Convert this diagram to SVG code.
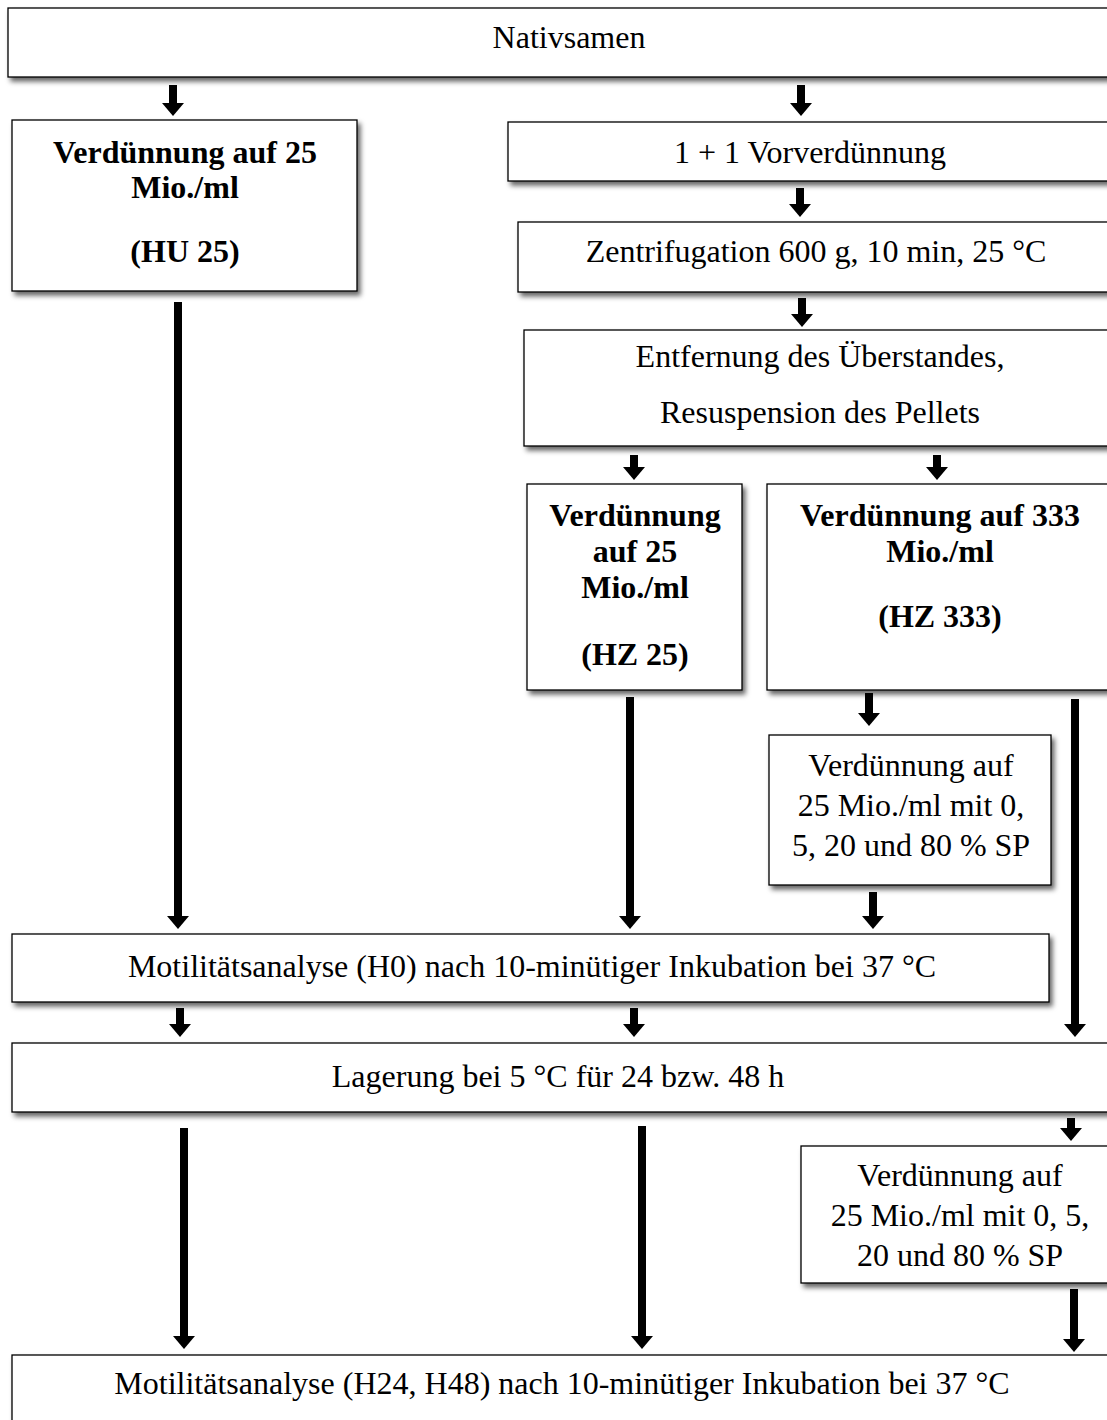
<svg xmlns="http://www.w3.org/2000/svg" width="1107" height="1420" viewBox="0 0 1107 1420">
<defs>
<filter id="sh" x="-5%" y="-10%" width="115%" height="130%">
<feDropShadow dx="3" dy="4" stdDeviation="2.5" flood-color="#000" flood-opacity="0.6"/>
</filter>
<marker id="ah" markerUnits="userSpaceOnUse" markerWidth="14" markerHeight="24" viewBox="0 -12 14 24" refX="0" refY="0" orient="auto">
<path d="M0,-11 L13,0 L0,11 z" fill="#000"/>
</marker>
</defs>
<style>
.box{fill:#fff;stroke:#000;stroke-width:1.3;filter:url(#sh)}
.t{font-family:"Liberation Serif","Times New Roman",serif;font-size:32px;fill:#000;text-anchor:middle}
.b{font-weight:bold}
.ar{stroke:#000;stroke-width:8;fill:none;marker-end:url(#ah)}
</style>
<rect width="1107" height="1420" fill="#fff"/>

<g id="connectors">
<line class="ar" x1="173" y1="85" x2="173" y2="103"/>
<line class="ar" x1="801" y1="85" x2="801" y2="103"/>
<line class="ar" x1="800" y1="188" x2="800" y2="204"/>
<line class="ar" x1="802" y1="298" x2="802" y2="314"/>
<line class="ar" x1="634" y1="455" x2="634" y2="467"/>
<line class="ar" x1="937" y1="455" x2="937" y2="467"/>
<line class="ar" x1="178" y1="302" x2="178" y2="916"/>
<line class="ar" x1="630" y1="697" x2="630" y2="916"/>
<line class="ar" x1="869" y1="693" x2="869" y2="713"/>
<line class="ar" x1="1075" y1="699" x2="1075" y2="1024"/>
<line class="ar" x1="873" y1="892" x2="873" y2="916"/>
<line class="ar" x1="180" y1="1008" x2="180" y2="1024"/>
<line class="ar" x1="634" y1="1008" x2="634" y2="1024"/>
<line class="ar" x1="184" y1="1128" x2="184" y2="1336"/>
<line class="ar" x1="642" y1="1126" x2="642" y2="1336"/>
<line class="ar" x1="1071" y1="1118" x2="1071" y2="1128"/>
<line class="ar" x1="1074" y1="1289" x2="1074" y2="1339"/>
</g>

<g id="n-nativsamen">
<rect class="box" x="8" y="8" width="1120" height="69"/>
<text class="t" x="569" y="48">Nativsamen</text>
</g>
<g id="n-hu25">
<rect class="box" x="12" y="120" width="345" height="171"/>
<text class="t b" x="185" y="163">Verdünnung auf 25</text>
<text class="t b" x="185" y="198">Mio./ml</text>
<text class="t b" x="185" y="262">(HU 25)</text>
</g>
<g id="n-vorverduennung">
<rect class="box" x="508" y="122" width="620" height="59"/>
<text class="t" x="810" y="163">1 + 1 Vorverdünnung</text>
</g>
<g id="n-zentrifugation">
<rect class="box" x="518" y="222" width="610" height="70"/>
<text class="t" x="816" y="262">Zentrifugation 600 g, 10 min, 25 °C</text>
</g>
<g id="n-entfernung">
<rect class="box" x="524" y="330" width="604" height="116"/>
<text class="t" x="820" y="367">Entfernung des Überstandes,</text>
<text class="t" x="820" y="423">Resuspension des Pellets</text>
</g>
<g id="n-hz25">
<rect class="box" x="527" y="484" width="215" height="206"/>
<text class="t b" x="635" y="526">Verdünnung</text>
<text class="t b" x="635" y="562">auf 25</text>
<text class="t b" x="635" y="598">Mio./ml</text>
<text class="t b" x="635" y="665">(HZ 25)</text>
</g>
<g id="n-hz333">
<rect class="box" x="767" y="484" width="361" height="206"/>
<text class="t b" x="940" y="526">Verdünnung auf 333</text>
<text class="t b" x="940" y="562">Mio./ml</text>
<text class="t b" x="940" y="627">(HZ 333)</text>
</g>
<g id="n-sp1">
<rect class="box" x="769" y="735" width="282" height="150"/>
<text class="t" x="911" y="776">Verdünnung auf</text>
<text class="t" x="911" y="816">25 Mio./ml mit 0,</text>
<text class="t" x="911" y="856">5, 20 und 80 % SP</text>
</g>
<g id="n-h0">
<rect class="box" x="12" y="934" width="1037" height="68"/>
<text class="t" x="532" y="977">Motilitätsanalyse (H0) nach 10-minütiger Inkubation bei 37 °C</text>
</g>
<g id="n-lagerung">
<rect class="box" x="12" y="1043" width="1116" height="69"/>
<text class="t" x="558" y="1087">Lagerung bei 5 °C für 24 bzw. 48 h</text>
</g>
<g id="n-sp2">
<rect class="box" x="801" y="1146" width="327" height="137"/>
<text class="t" x="960" y="1186">Verdünnung auf</text>
<text class="t" x="960" y="1226">25 Mio./ml mit 0, 5,</text>
<text class="t" x="960" y="1266">20 und 80 % SP</text>
</g>
<g id="n-h24">
<rect class="box" x="12" y="1355" width="1116" height="80"/>
<text class="t" x="562" y="1394">Motilitätsanalyse (H24, H48) nach 10-minütiger Inkubation bei 37 °C</text>
</g>
</svg>
